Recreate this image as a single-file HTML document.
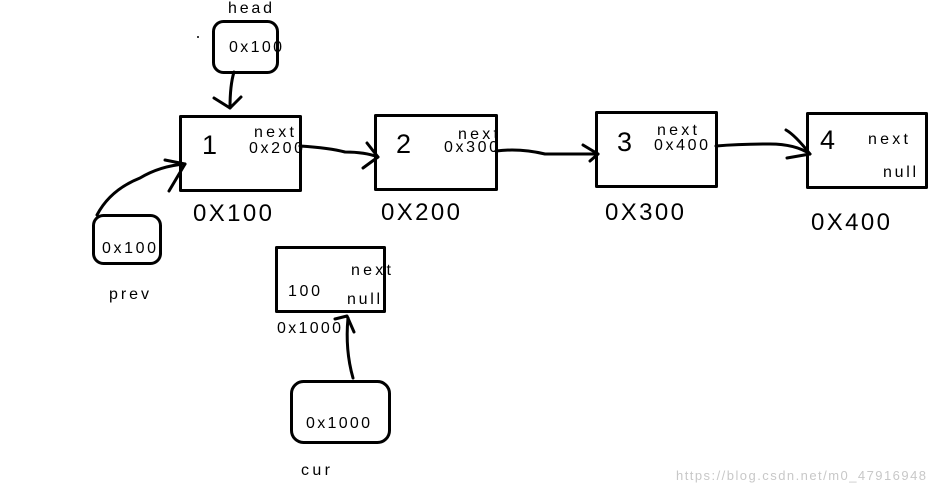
<!DOCTYPE html>
<html><head><meta charset="utf-8"><style>
html,body{margin:0;padding:0;background:#fff;}
svg{display:block;}
text{font-family:"Liberation Sans",sans-serif;fill:#000;}
</style></head><body>
<svg width="935" height="494" viewBox="0 0 935 494" xmlns="http://www.w3.org/2000/svg">
<g fill="none" stroke="#000" stroke-width="3" stroke-linecap="round" stroke-linejoin="round">
<rect x="180.5" y="116.5" width="120" height="74"/>
<rect x="375.5" y="115.5" width="121" height="74"/>
<rect x="596.5" y="112.5" width="120" height="74"/>
<rect x="807.5" y="113.5" width="119" height="74"/>
<rect x="276.5" y="247.5" width="108" height="64"/>
<rect x="213.5" y="21.5" width="64" height="51" rx="10"/>
<rect x="93.5" y="215.5" width="67" height="48" rx="10"/>
<rect x="291.5" y="381.5" width="98" height="61" rx="12"/>
<path d="M234 72 Q230 85 230 108"/>
<path d="M214 98 L230 108 L241 97"/>
<path d="M97 215 Q110 190 140 178 Q160 166 185 164"/>
<path d="M165 160 L185 164 L169 191"/>
<path d="M300 146 Q330 148 345 152 Q365 152 378 157"/>
<path d="M367 143 L378 157 L363 168"/>
<path d="M496 151 Q520 148 545 154 Q570 154 598 154"/>
<path d="M583 145 L598 154 L590 161"/>
<path d="M716 146 Q740 144 770 144 Q795 144 810 154"/>
<path d="M786 130 Q795 135 810 154 L787 158"/>
<path d="M353 378 Q345 350 348 318"/>
<path d="M335 319 L347 316 L354 332"/>
</g>
<circle cx="198" cy="37" r="1" fill="#000"/>
<text x="228" y="13" font-size="16" textLength="44">head</text>
<text x="229" y="52" font-size="16" textLength="53">0x100</text>
<text x="102" y="253" font-size="16" textLength="54">0x100</text>
<text x="109" y="299" font-size="16" textLength="40">prev</text>
<text x="202" y="154" font-size="27">1</text>
<text x="254" y="137" font-size="16" textLength="40">next</text>
<text x="249" y="153" font-size="16" textLength="54">0x200</text>
<text x="193" y="221" font-size="24" textLength="79">0X100</text>
<text x="396" y="153" font-size="27">2</text>
<text x="458" y="139" font-size="16" textLength="40">next</text>
<text x="444" y="152" font-size="16" textLength="54">0x300</text>
<text x="381" y="220" font-size="24" textLength="79">0X200</text>
<text x="617" y="151" font-size="27">3</text>
<text x="657" y="135" font-size="16" textLength="40">next</text>
<text x="654" y="150" font-size="16" textLength="54">0x400</text>
<text x="605" y="220" font-size="24" textLength="79">0X300</text>
<text x="820" y="149" font-size="27">4</text>
<text x="868" y="144" font-size="16" textLength="40">next</text>
<text x="883" y="177" font-size="16" textLength="33">null</text>
<text x="811" y="230" font-size="24" textLength="79">0X400</text>
<text x="288" y="296" font-size="16" textLength="32">100</text>
<text x="351" y="275" font-size="16" textLength="40">next</text>
<text x="347" y="304" font-size="16" textLength="33">null</text>
<text x="277" y="333" font-size="16" textLength="64">0x1000</text>
<text x="306" y="428" font-size="16" textLength="64">0x1000</text>
<text x="301" y="475" font-size="16" textLength="29">cur</text>
<text x="676" y="480" font-size="13" textLength="250" style="fill:#c8c8c8">https://blog.csdn.net/m0_47916948</text>
</svg>
</body></html>
